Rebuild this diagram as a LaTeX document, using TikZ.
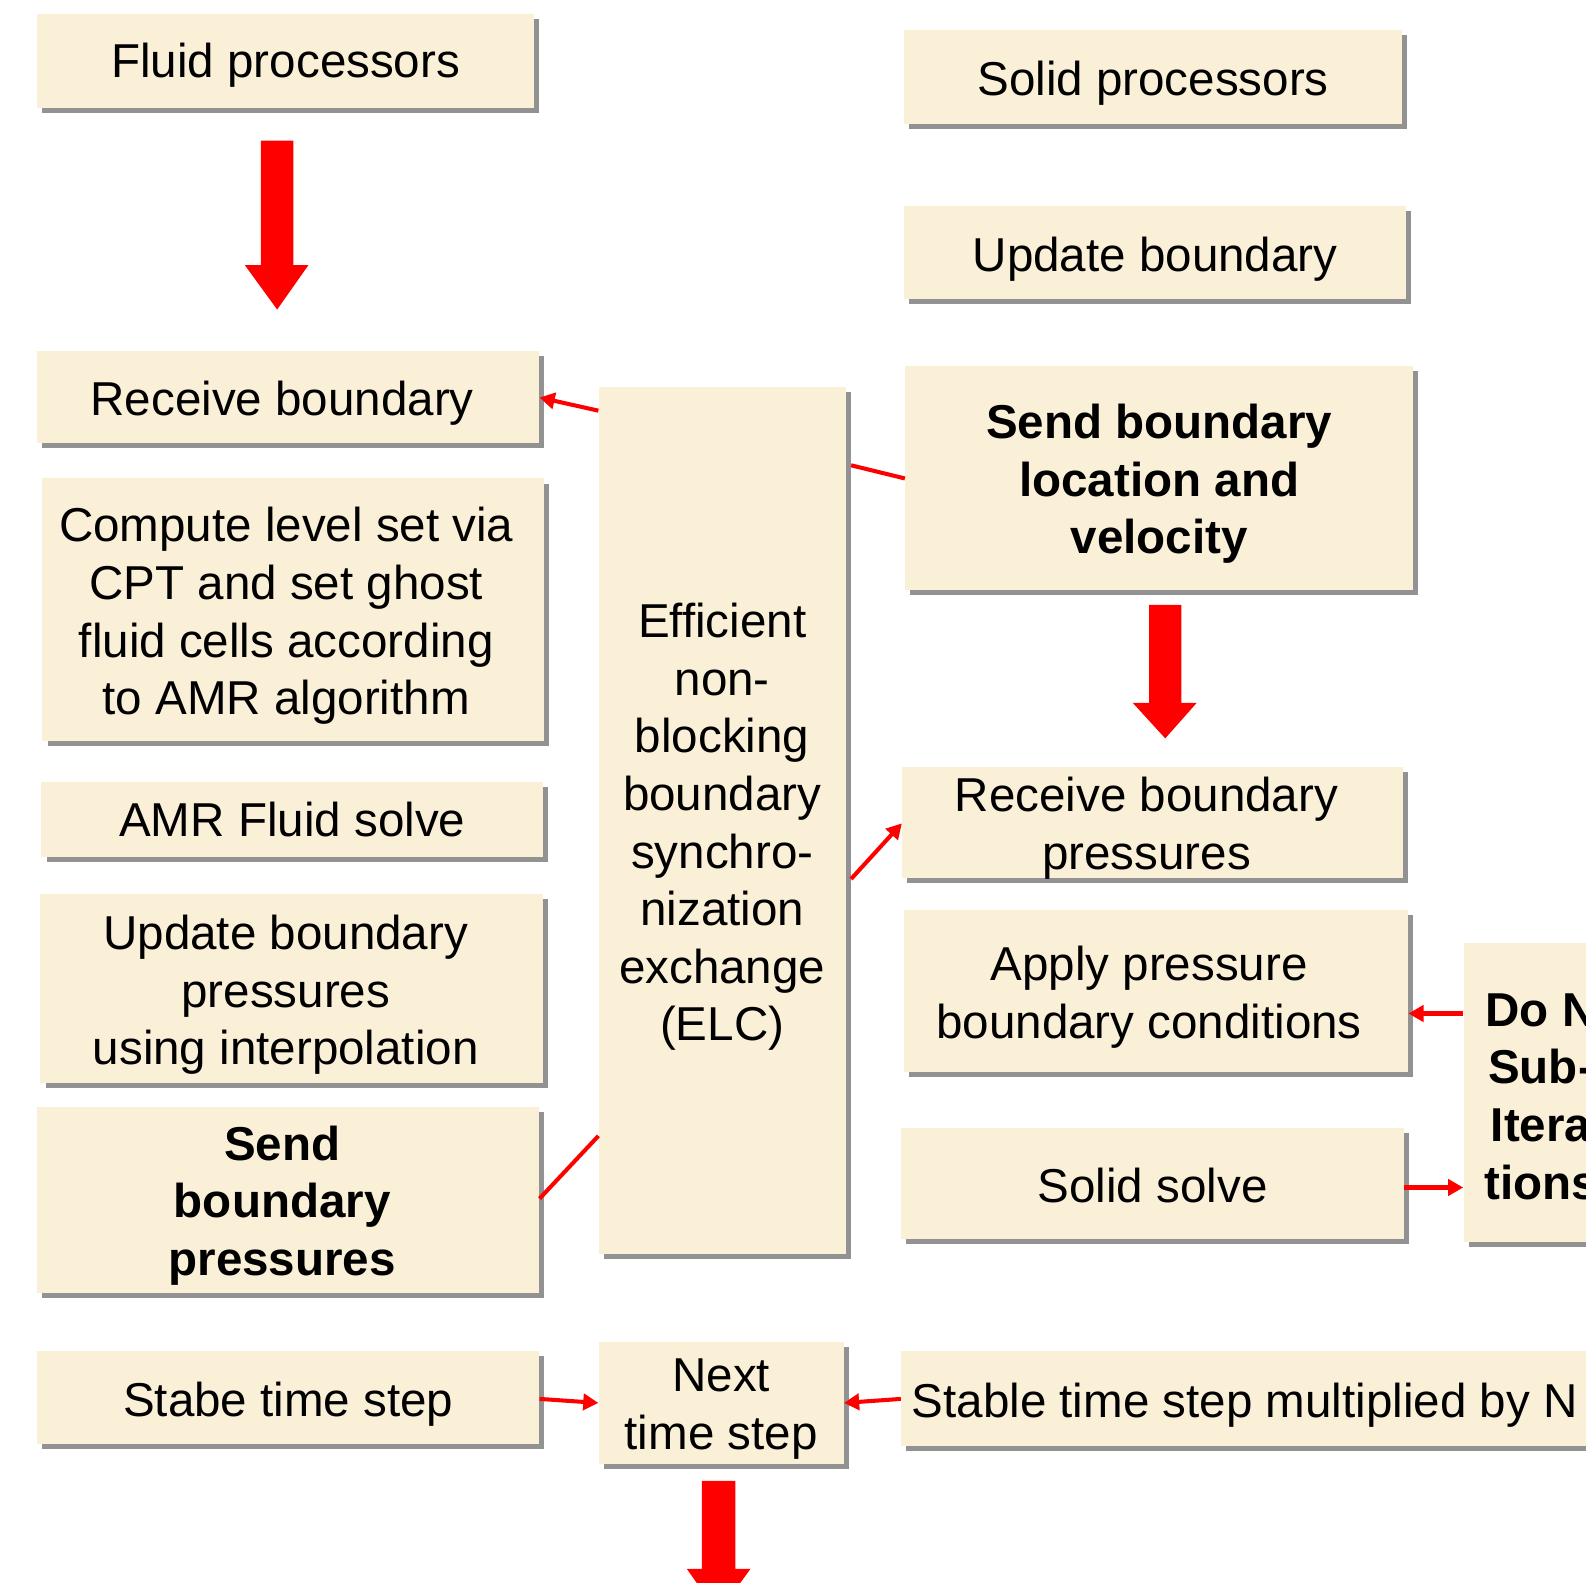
\documentclass[tikz,border=0pt]{standalone}
\usepackage{fontspec}
\setmainfont{Liberation Sans}
\usetikzlibrary{shadows,arrows.meta}
\definecolor{boxfill}{RGB}{250,239,215}
\definecolor{shadowgray}{RGB}{146,146,146}
\definecolor{arrred}{RGB}{255,0,0}
\tikzset{
  box/.style={fill=boxfill, inner sep=0pt,
    drop shadow={shadow xshift=2.5pt, shadow yshift=-2.5pt, fill=shadowgray, opacity=1}},
  boxtext/.style={inner sep=0pt, align=center, font=\fontsize{23.5}{28.5}\selectfont},
  bold/.style={font=\fontsize{23.5}{28.5}\selectfont\bfseries},
  conn/.style={draw=arrred, line width=2pt, -{Triangle[length=7.5pt,width=8pt]}},
  link/.style={draw=arrred, line width=2pt},
  blockarrow/.style={fill=arrred},
}
% #1 text options, #2 name, #3 left, #4 right, #5 top, #6 bottom, #7 text
\newcommand\mybox[7][]{%
  \node[box, minimum width={(#4-#3)*0.5pt}, minimum height={(#6-#5)*0.5pt}]
    (#2) at ({(#3+#4)/2},{(#5+#6)/2}) {};
  \node[boxtext, yshift=-3pt, #1] (#2-t) at (#2.center) {#7};}
\begin{document}
\begin{tikzpicture}[x=0.5pt,y=-0.5pt]
\useasboundingbox (0,0) rectangle (1568,1565);
\clip (0,0) rectangle (1568,1565);
% left column
\mybox[yshift=1pt]{fluid}{37}{528}{14}{107}{Fluid processors}
\mybox[xshift=-3pt]{recvL}{37}{533}{347}{438}{Receive boundary}
\mybox[xshift=-3.5pt]{compute}{42}{538}{473}{733}{Compute level set via\\CPT and set ghost\\fluid cells according\\to AMR algorithm}
\mybox[yshift=3pt]{amr}{41}{537}{773}{847}{AMR Fluid solve}
\mybox[xshift=-3pt]{updP}{40}{537}{884}{1071}{Update boundary\\pressures\\using interpolation}
\mybox[bold,xshift=-3pt]{sendP}{37}{533}{1094}{1278}{Send\\boundary\\pressures}
\mybox{stabe}{37}{533}{1336}{1428}{Stabe time step}
% middle
\mybox{elc}{592}{836}{383}{1240}{Efficient\\non-\\blocking\\boundary\\synchro-\\nization\\exchange\\(ELC)}
\mybox{next}{592}{834}{1327}{1447}{Next\\time step}
% right column
\mybox{solidP}{894}{1386}{30}{123}{Solid processors}
\mybox{updB}{894}{1390}{204}{296}{Update boundary}
\mybox[bold]{sendB}{895}{1397}{362}{583}{Send boundary\\location and\\velocity}
\mybox[xshift=-3pt]{recvP}{892}{1387}{758}{868}{Receive boundary\\pressures}
\mybox[xshift=-3.5pt]{apply}{894}{1392}{900}{1060}{Apply pressure\\boundary conditions}
\mybox[yshift=2pt]{solid}{891}{1388}{1115}{1225}{Solid solve}
\mybox[bold,yshift=1pt]{doN}{1447}{1600}{932}{1228}{Do N\\Sub-\\Itera\\tions}
\mybox{stableN}{891}{1570}{1336}{1430}{Stable time step multiplied by N}
% block arrows
\fill[blockarrow] (258,139) -- (290,139) -- (290,262) -- (305,262) -- (274,306) -- (242,262) -- (258,262) -- cycle;
\fill[blockarrow] (1136,598) -- (1168,598) -- (1168,695) -- (1183,695) -- (1152,730) -- (1120,695) -- (1136,695) -- cycle;
\fill[blockarrow] (694,1464) -- (727,1464) -- (727,1551) -- (742,1551) -- (710,1595) -- (679,1551) -- (694,1551) -- cycle;
% connectors
\draw[conn] (elc.west |- 0,406) -- (recvL.east |- 0,393);
\draw[link] ([xshift=2.5pt]elc.east |- 0,460) -- (sendB.west |- 0,473);
\draw[conn] ([xshift=2.5pt]elc.east |- 0,869) -- (recvP.west |- 0,814);
\draw[link] (sendP.east |- 0,1185) -- (elc.west |- 0,1123);
\draw[conn] (stabe.east |- 0,1383) -- (next.west |- 0,1387);
\draw[conn] (stableN.west |- 0,1383) -- (next.east |- 0,1387);
\draw[conn] (doN.west |- 0,1002) -- (apply.east |- 0,1002);
\draw[conn] (solid.east |- 0,1174) -- (doN.west |- 0,1174);
\end{tikzpicture}
\end{document}
